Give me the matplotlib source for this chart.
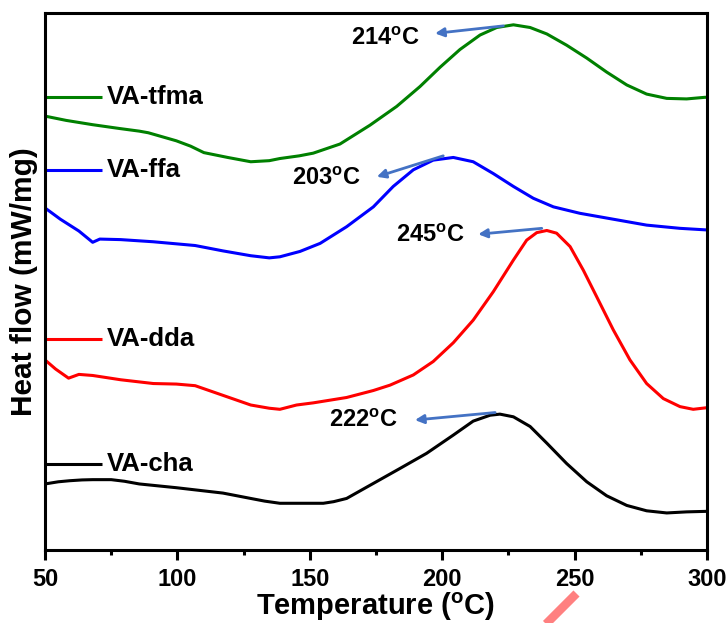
import matplotlib
matplotlib.use("Agg")
import matplotlib.pyplot as plt
from matplotlib.lines import Line2D

plt.rcParams['font.family'] = ['Liberation Sans', 'DejaVu Sans']
plt.rcParams['font.weight'] = 'bold'
plt.rcParams['mathtext.fontset'] = 'custom'
plt.rcParams['mathtext.rm'] = 'Liberation Sans:bold'
plt.rcParams['mathtext.it'] = 'Liberation Sans:bold'
plt.rcParams['mathtext.bf'] = 'Liberation Sans:bold'
plt.rcParams['mathtext.default'] = 'rm'

# ---- data (temperature in degC, heat flow in arbitrary offset units) ----
t_tfma = [50, 58, 68, 78, 85.6, 89, 99.6, 105, 110, 119, 127.7, 134.7, 138.7, 146, 151.3,
          161.4, 172.7, 182.8, 191.6, 199.2, 206.7, 214.3, 220.6, 226.9, 233.2, 239.5, 247.0,
          254.6, 262.1, 269.7, 277.2, 284.8, 292.3, 299.2, 300]
y_tfma = [80.8, 80.0, 79.2, 78.5, 78.0, 77.7, 76.2, 75.2, 74.0, 73.1, 72.3, 72.5, 72.9, 73.4, 73.9,
          75.6, 79.1, 82.6, 86.3, 89.9, 93.2, 95.9, 97.3, 97.8, 97.3, 96.1, 94.0,
          91.6, 89.0, 86.6, 84.9, 84.1, 84.0, 84.3, 84.3]

t_ffa = [50, 55.8, 62.8, 68, 70.7, 78.6, 90.9, 106.7, 117.2, 127.7, 134.7, 138.7, 146.3, 153.9,
         163.9, 174.0, 181.5, 189.1, 196.6, 204.2, 211.7, 219.3, 226.9, 234.4, 242.0, 252.0,
         264.6, 277.2, 289.8, 300]
y_ffa = [63.7, 61.6, 59.4, 57.3, 57.9, 57.8, 57.4, 56.7, 55.7, 54.8, 54.4, 54.6, 55.6, 57.1,
         60.2, 63.9, 67.7, 70.8, 72.6, 73.1, 72.3, 70.1, 67.7, 65.5, 63.9, 62.7,
         61.6, 60.5, 59.9, 59.6]

t_dda = [50, 54, 58.9, 62.8, 68, 78.6, 90.9, 99.6, 106.7, 117.2, 127.7, 134.7, 138.7, 145.0,
         151.3, 163.9, 174.0, 180.3, 189.1, 196.6, 204.2, 211.7, 219.3, 226.9, 231.9, 235.7,
         239.5, 243.2, 248.3, 253.3, 258.3, 264.6, 270.9, 277.2, 283.5, 289.8, 294.8, 300]
y_dda = [35.4, 33.7, 32.0, 32.7, 32.5, 31.7, 31.0, 30.9, 30.6, 28.8, 27.0, 26.4, 26.2, 27.0,
         27.4, 28.4, 29.7, 30.7, 32.6, 35.1, 38.6, 42.8, 48.1, 54.0, 57.7, 59.1,
         59.5, 59.0, 56.5, 52.1, 47.2, 41.0, 35.4, 31.0, 28.2, 26.7, 26.2, 26.5]

t_cha = [50, 55, 59.3, 64, 68, 75, 80, 85.6, 99.6, 117.2, 127.7, 133, 138.7, 155.1, 159, 163.9,
         174.0, 184.1, 194.1, 204.2, 211.7, 218.1, 221.8, 226.9, 233.2, 239.5, 247.0, 254.6,
         262.1, 269.7, 277.2, 284.8, 292.3, 300]
y_cha = [12.3, 12.7, 12.9, 13.05, 13.1, 13.1, 12.8, 12.3, 11.6, 10.6, 9.6, 9.1, 8.7, 8.7, 9.0, 9.6,
         12.4, 15.2, 18.0, 21.4, 24.0, 25.1, 25.3, 24.8, 23.0, 19.9, 16.1, 12.7,
         10.1, 8.3, 7.3, 6.9, 7.1, 7.2]

labels = ['VA-tfma', 'VA-ffa', 'VA-dda', 'VA-cha']
colors = ['#008000', '#0000FF', '#FF0000', '#000000']
legend_y = [84.3, 70.8, 39.3, 16.0]

peak_labels = ['214', '203', '245', '222']
peak_text_xy = [(178.4, 95.3), (156.1, 69.2), (195.4, 58.5), (170.4, 24.2)]
arrow_tail = [(223.1, 97.6), (200.4, 73.4), (237.6, 59.9), (220.0, 25.6)]
arrow_head = [(197.3, 96.2), (175.3, 69.5), (213.6, 58.8), (189.7, 24.2)]

xticks = [50, 100, 150, 200, 250, 300]

# ---- figure ----
fig = plt.figure(figsize=(7.28, 6.23), dpi=100)
ax = fig.add_axes([45/728, 1 - 550/623, (707 - 45)/728, (550 - 13)/623])

series = [(t_tfma, y_tfma), (t_ffa, y_ffa), (t_dda, y_dda), (t_cha, y_cha)]
for (t, y), c in zip(series, colors):
    ax.plot(t, y, color=c, lw=2.2, solid_joinstyle='round')

for lab, c, ly in zip(labels, colors, legend_y):
    ax.plot([50, 71.6], [ly, ly], color=c, lw=2.2, solid_capstyle='butt')
    ax.text(73.5, ly, lab, fontsize=18.5, fontweight='bold', va='center', ha='left')

for pl, (tx, ty), tail, head in zip(peak_labels, peak_text_xy, arrow_tail, arrow_head):
    ax.text(tx, ty, pl + r'$^{\mathrm{o}}$C', fontsize=17, fontweight='bold',
            ha='center', va='center')
    ax.annotate('', xy=head, xytext=tail,
                arrowprops=dict(arrowstyle='-|>', color='#4472C4', lw=2.0,
                                mutation_scale=13, shrinkA=0, shrinkB=0))

ax.set_xlim(50, 300)
ax.set_ylim(0, 100)
ax.set_xticks(xticks)
ax.set_xticks([75, 125, 175, 225, 275], minor=True)
ax.set_yticks([])
ax.tick_params(axis='x', which='major', direction='out', length=7, width=2.2,
               labelsize=17, pad=6)
ax.tick_params(axis='x', which='minor', direction='out', length=3.5, width=2.2)
for lbl in ax.get_xticklabels():
    lbl.set_fontweight('bold')
for s in ax.spines.values():
    s.set_linewidth(2.2)

xl = ax.set_xlabel(r'Temperature ($^{\mathrm{o}}$C)', fontsize=21, fontweight='bold')
xl.set_va('center')
ax.xaxis.set_label_coords(0.5, -0.106)
yl = ax.set_ylabel('Heat flow (mW/mg)', fontsize=21.5, fontweight='bold')
yl.set_va('center')
ax.yaxis.set_label_coords(-0.031, 0.5)

# pink stroke mark at bottom
fig.add_artist(Line2D([576.5/728, 535/728], [1 - 593.5/623, 1 - 635/623],
                      transform=fig.transFigure, color='#FF8080', lw=6.2,
                      solid_capstyle='butt'))

fig.savefig('out.png', dpi=100)
